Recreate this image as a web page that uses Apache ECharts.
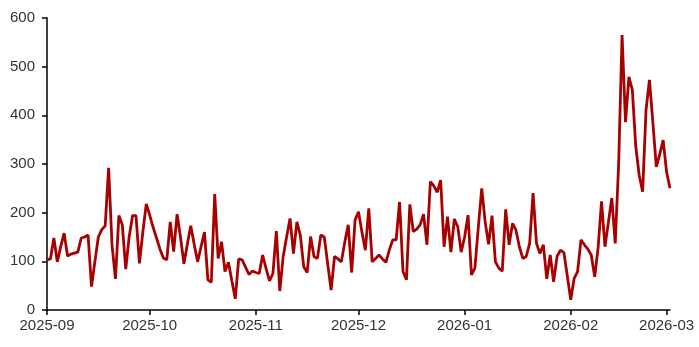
<!DOCTYPE html>
<html>
<head>
<meta charset="utf-8">
<script src="https://cdn.jsdelivr.net/npm/echarts@6/dist/echarts.min.js"></script>
<style>
html,body{margin:0;padding:0;background:#fff;}
#chart{width:699px;height:347px;}
</style>
</head>
<body>
<div id="chart"></div>
<script>
// Daily values, starting 2025-09-01
const startDate = '2025-09-01';
const sepValues = [103,105,148,99,130,158,111,115,117,119,148,150,154,48,100,150,165,173,292,133,64,194,175,84,150,194,194,96,160,218];
const octValues = [195,170,148,125,107,103,181,120,197,150,95,135,173,135,99,130,160,62,57,238,106,140,79,98,60,23,105,103,88,73,80];
const novValues = [77,75,113,85,60,75,162,39,110,150,188,116,181,154,89,77,151,110,106,154,150,95,41,110,105,99,140,175,77,185];
const decValues = [202,160,123,209,99,106,113,105,98,123,144,144,222,79,62,217,161,166,175,197,134,264,255,242,267,130,192,119,187,171,119];
const janValues = [150,195,72,86,170,250,181,135,194,99,86,80,207,134,178,164,130,106,110,137,240,137,116,134,64,113,58,110,123,118,70];
const febValues = [21,65,79,144,134,125,113,68,128,223,130,180,230,137,300,565,386,479,452,336,277,243,411,473,385,294,320,349,284,250];
const yTicks = [0,100,200,300,400,500,600];
const xMin = '2025-09-01';
const xMax = '2026-03-02';

const allValues = [].concat(sepValues, octValues, novValues, decValues, janValues, febValues);
function dateStr(i){
  const d = new Date(Date.UTC(2025, 8, 1 + i));
  return d.toISOString().slice(0,10);
}
const seriesData = allValues.map((v,i)=>[dateStr(i), v]);

const chart = echarts.init(document.getElementById('chart'));
const labelFont = {fontFamily:'Liberation Sans, Arial, sans-serif', fontSize:15, color:'#333'};
chart.setOption({
  animation:false,
  grid:{left:47, right:29, top:18, bottom:37, containLabel:false},
  xAxis:{
    type:'time',
    min:xMin, max:xMax,
    splitNumber:6,
    minInterval:28*86400000,
    maxInterval:31*86400000,
    axisLine:{show:true, lineStyle:{color:'#000', width:1.5}},
    axisTick:{show:true, length:5, lineStyle:{color:'#000', width:1.5}},
    splitLine:{show:false},
    axisLabel:Object.assign({
      margin:8,
      hideOverlap:false,
      formatter:function(v){const d=new Date(v);return d.getFullYear()+'-'+String(d.getMonth()+1).padStart(2,'0');}
    }, labelFont)
  },
  yAxis:{
    type:'value',
    min:yTicks[0], max:yTicks[yTicks.length-1], interval:100,
    axisLine:{show:true, lineStyle:{color:'#000', width:1.5}},
    axisTick:{show:true, length:5, lineStyle:{color:'#000', width:1.5}},
    splitLine:{show:false},
    axisLabel:Object.assign({margin:12}, labelFont)
  },
  series:[{
    type:'line',
    data:seriesData,
    showSymbol:false,
    symbol:'none',
    lineStyle:{color:'#A80000', width:2.8},
    itemStyle:{color:'#A80000'}
  }]
});
</script>
</body>
</html>
